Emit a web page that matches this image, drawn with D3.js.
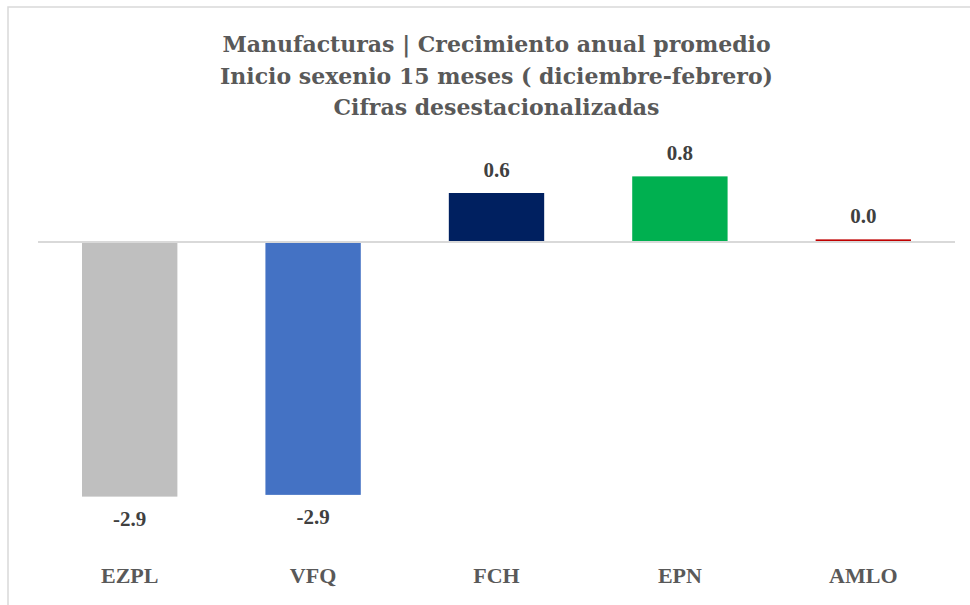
<!DOCTYPE html>
<html>
<head>
<meta charset="utf-8">
<script src="https://cdn.jsdelivr.net/npm/d3@7"></script>
<style>
  body { margin: 0; background: #fff; }
  text { font-family: "Liberation Serif", "DejaVu Serif", serif; font-weight: bold; }
  text.title { font-family: "DejaVu Serif", serif; }
</style>
</head>
<body>
<script>
// data
var categories = ["EZPL", "VFQ", "FCH", "EPN", "AMLO"];
var values = [-2.91, -2.89, 0.56, 0.75, 0.03];
var colors = ["#bfbfbf", "#4472c4", "#002060", "#00b050", "#c00000"];
var titleLines = [
    "Manufacturas | Crecimiento anual promedio",
    "Inicio sexenio 15 meses ( diciembre-febrero)",
    "Cifras desestacionalizadas"
];

var w = 970, h = 605;

var svg = d3.select("body")
    .append("svg")
    .attr("width", w)
    .attr("height", h);

// chart border (top + left visible)
svg.append("path")
   .attr("d", "M8,605 L8,7 L970,7")
   .attr("fill", "none")
   .attr("stroke", "#d9d9d9")
   .attr("stroke-width", 1.5);

var x = d3.scaleBand()
    .domain(categories)
    .range([38, 955])
    .paddingInner(0.48)
    .paddingOuter(0.24);

var y = d3.scaleLinear()
    .domain([-3, 1])
    .range([504.5, 154.5]);

// title
svg.selectAll("text.title")
   .data(titleLines)
   .enter()
   .append("text")
   .attr("class", "title")
   .attr("x", 496.5)
   .attr("y", function(d, i) { return 52 + i * 31.5; })
   .attr("text-anchor", "middle")
   .attr("font-size", "22px")
   .attr("fill", "#595959")
   .text(function(d) { return d; });

// bars
svg.selectAll("rect.bar")
   .data(values)
   .enter()
   .append("rect")
   .attr("class", "bar")
   .attr("x", function(d, i) { return x(categories[i]); })
   .attr("width", x.bandwidth())
   .attr("y", function(d) { return d >= 0 ? y(d) : y(0); })
   .attr("height", function(d) { return Math.abs(y(d) - y(0)); })
   .attr("fill", function(d, i) { return colors[i]; });

// zero line
svg.append("line")
   .attr("x1", 38)
   .attr("x2", 955)
   .attr("y1", y(0))
   .attr("y2", y(0))
   .attr("stroke", "#d9d9d9")
   .attr("stroke-width", 2);

// value labels (plain hyphen like the source)
var fmt = d3.format(".1f");
svg.selectAll("text.val")
   .data(values)
   .enter()
   .append("text")
   .attr("class", "val")
   .attr("x", function(d, i) { return x(categories[i]) + x.bandwidth() / 2; })
   .attr("y", function(d) { return d >= 0 ? y(d) - 16 : y(d) + 29; })
   .attr("text-anchor", "middle")
   .attr("font-size", "21px")
   .attr("fill", "#404040")
   .text(function(d) { return fmt(d).replace("\u2212", "-"); });

// category labels
svg.selectAll("text.cat")
   .data(categories)
   .enter()
   .append("text")
   .attr("class", "cat")
   .attr("x", function(d) { return x(d) + x.bandwidth() / 2; })
   .attr("y", 583)
   .attr("text-anchor", "middle")
   .attr("font-size", "22px")
   .attr("fill", "#595959")
   .text(function(d) { return d; });
</script>
</body>
</html>
